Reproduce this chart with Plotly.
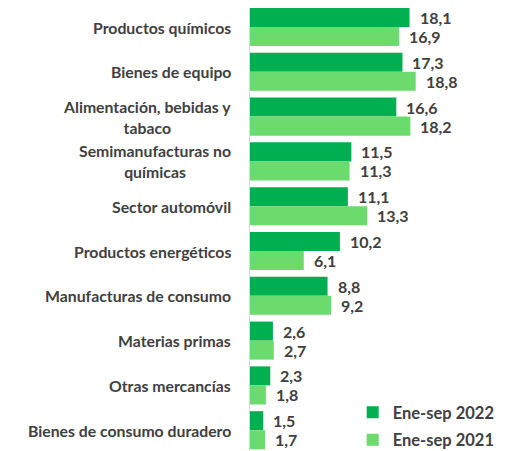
import plotly.graph_objects as go

categories = ["Productos químicos", "Bienes de equipo", "Alimentación, bebidas y<br>tabaco",
              "Semimanufacturas no<br>químicas", "Sector automóvil", "Productos energéticos",
              "Manufacturas de consumo", "Materias primas", "Otras mercancías",
              "Bienes de consumo duradero"]
vals_2022 = [18.1, 17.3, 16.6, 11.5, 11.1, 10.2, 8.8, 2.6, 2.3, 1.5]
vals_2021 = [16.9, 18.8, 18.2, 11.3, 13.3, 6.1, 9.2, 2.7, 1.8, 1.7]
series_names = ["Ene-sep 2022", "Ene-sep 2021"]
colors = ["#00B050", "#6ADB6C"]

FONT = "Lato"
TXT = "#404040"

fig = go.Figure()
for name, vals, col in zip(series_names, [vals_2022, vals_2021], colors):
    fig.add_trace(go.Bar(
        y=categories, x=vals, name=name, orientation="h",
        marker=dict(color=col, line=dict(width=0)),
        legendgroup=name,
    ))

annotations = []
for vals, shift in [(vals_2022, -9.5), (vals_2021, 9.5)]:
    for c, v in zip(categories, vals):
        annotations.append(dict(
            x=v, y=c, xref="x", yref="y", text=f"{v:.1f}".replace(".", ","),
            showarrow=False, xanchor="left", xshift=8, yshift=-shift,
            font=dict(family=FONT, size=16, color=TXT, weight="bold"),
        ))
for c in categories:
    annotations.append(dict(
        x=0, y=c, xref="paper", yref="y", text=c, showarrow=False,
        xanchor="right", xshift=-17, align="center",
        font=dict(family=FONT, size=15.8, color=TXT, weight="bold"),
    ))

fig.update_layout(
    width=507, height=451,
    margin=dict(l=242, r=5, t=0, b=8),
    plot_bgcolor="white", paper_bgcolor="white",
    barmode="group", bargap=0.15, bargroupgap=0.0,
    separators=",.",
    annotations=annotations,
    showlegend=True,
    legend=dict(x=0.395, y=-0.0135, xanchor="left", yanchor="bottom",
                traceorder="grouped", tracegroupgap=3,
                font=dict(family=FONT, size=16.5, color=TXT, weight="bold"),
                bgcolor="rgba(0,0,0,0)", itemwidth=30),
    xaxis=dict(range=[0, 29.5], showgrid=False, showticklabels=False, zeroline=False,
               showline=False, ticks=""),
    yaxis=dict(range=[9.464, -0.424], showticklabels=False, showgrid=False,
               showline=True, linecolor="#D9D9D9", linewidth=1, ticks=""),
)

fig.write_html("out.html")
